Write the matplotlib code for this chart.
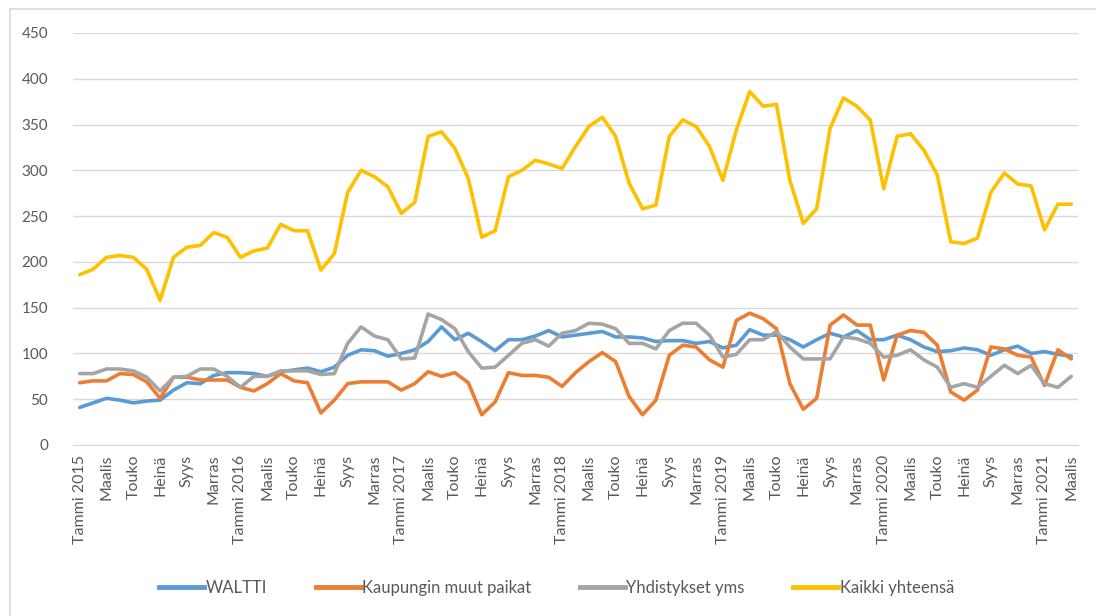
import matplotlib
matplotlib.use("Agg")
import matplotlib.pyplot as plt
from matplotlib.lines import Line2D

plt.rcParams['font.family'] = ['Lato', 'DejaVu Sans']

# Kuukaudet Tammi 2015 - Maalis 2021
kuukaudet = ['Tammi', 'Helmi', 'Maalis', 'Huhti', 'Touko', 'Kesä',
             'Heinä', 'Elo', 'Syys', 'Loka', 'Marras', 'Joulu']
vuodet = [2015, 2016, 2017, 2018, 2019, 2020, 2021]

waltti = [41, 46, 51, 49, 46, 48, 49, 60, 68, 67, 76, 79,
          79, 78, 75, 80, 82, 84, 80, 85, 98, 104, 103, 97,
          100, 104, 113, 129, 115, 122, 113, 103, 115, 115, 119, 125,
          118, 120, 122, 124, 118, 118, 117, 113, 114, 114, 111, 113,
          106, 109, 126, 120, 120, 115, 107, 115, 122, 118, 125, 115,
          115, 120, 115, 107, 102, 103, 106, 104, 98, 104, 108, 100,
          102, 99, 97]

kaupunki = [68, 70, 70, 78, 77, 69, 51, 74, 74, 71, 71, 71,
            63, 59, 67, 78, 70, 68, 35, 49, 67, 69, 69, 69,
            60, 67, 80, 75, 79, 68, 33, 47, 79, 76, 76, 74,
            64, 79, 91, 101, 91, 53, 33, 49, 98, 109, 107, 93,
            85, 136, 144, 138, 127, 67, 39, 51, 131, 142, 131, 131,
            71, 120, 125, 123, 109, 58, 49, 60, 107, 105, 98, 96,
            65, 104, 94]

yhdistykset = [78, 78, 83, 83, 81, 74, 59, 74, 75, 83, 83, 75,
               63, 75, 75, 81, 81, 81, 77, 78, 111, 129, 119, 115,
               94, 95, 143, 137, 127, 102, 84, 85, 98, 111, 115, 108,
               122, 125, 133, 132, 127, 111, 111, 105, 125, 133, 133, 120,
               96, 99, 115, 115, 124, 107, 94, 94, 94, 118, 116, 111,
               96, 98, 104, 93, 85, 63, 67, 63, 75, 87, 78, 87,
               67, 63, 75]

kaikki = [186, 192, 205, 207, 205, 192, 158, 205, 216, 218, 232, 227,
          205, 212, 215, 241, 234, 234, 191, 209, 276, 300, 293, 282,
          253, 265, 337, 342, 324, 291, 227, 234, 293, 300, 311, 307,
          302, 326, 348, 358, 337, 286, 258, 262, 337, 355, 348, 326,
          289, 344, 386, 370, 372, 289, 242, 258, 346, 379, 370, 355,
          280, 337, 340, 322, 295, 222, 220, 226, 276, 297, 285, 283,
          235, 263, 263]

sarjat = ['WALTTI', 'Kaupungin muut paikat', 'Yhdistykset yms', 'Kaikki yhteensä']
varit = ['#5B9BD5', '#ED7D31', '#A5A5A5', '#FFC000']

n = len(kaikki)
nimet = []
for i in range(n):
    kk = kuukaudet[i % 12]
    if i % 12 == 0:
        kk = f'{kk} {vuodet[i // 12]}'
    nimet.append(kk)

fig = plt.figure(figsize=(10.96, 6.16), dpi=100)
ax = fig.add_axes([73 / 1096, 1 - 445 / 616, 1005 / 1096, 412 / 616])

x = list(range(n))
for data, vari in zip([waltti, kaupunki, yhdistykset, kaikki], varit):
    ax.plot(x, data, color=vari, linewidth=2.6, solid_joinstyle='round',
            solid_capstyle='round')

ax.set_xlim(-0.5, n - 0.5)
ax.set_ylim(0, 450)
ax.set_yticks(range(0, 451, 50))
ax.set_xticks(x[::2])
ax.set_xticklabels(nimet[::2], rotation=90, va='top', ha='center')
ax.grid(axis='y', color='#d9d9d9', linewidth=1)
ax.set_axisbelow(True)
for s in ['top', 'right', 'left']:
    ax.spines[s].set_visible(False)
ax.spines['bottom'].set_color('#d9d9d9')
ax.tick_params(axis='both', length=0, colors='#595959', labelsize=11)
ax.tick_params(axis='x', labelsize=11.5)
ax.tick_params(axis='y', pad=18)
ax.tick_params(axis='x', pad=7)

kahvat = [Line2D([0], [0], color=v, linewidth=3.5) for v in varit]
fig.legend(kahvat, sarjat, loc='center', bbox_to_anchor=(0.508, 1 - 588 / 616),
           ncol=4, frameon=False, fontsize=12, handlelength=2.7,
           columnspacing=2.9, handletextpad=0.1, labelcolor='#595959')

# kaavion reunus
fig.add_artist(Line2D([10 / 1096, 1], [1 - 9 / 616, 1 - 9 / 616],
                      color='#d9d9d9', linewidth=1.2))
fig.add_artist(Line2D([10 / 1096, 10 / 1096], [0, 1 - 9 / 616],
                      color='#d9d9d9', linewidth=1.2))

fig.savefig('out.png', dpi=100)
